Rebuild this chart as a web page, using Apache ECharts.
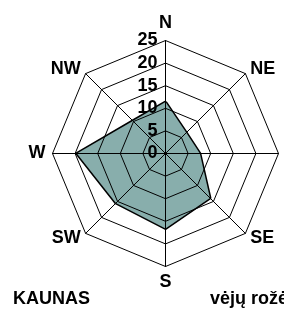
<!DOCTYPE html>
<html>
<head>
<meta charset="utf-8">
<script src="https://cdn.jsdelivr.net/npm/echarts@6/dist/echarts.min.js"></script>
<style>
  html, body { margin: 0; padding: 0; background: #fff; }
  #main { width: 284px; height: 311px; }
</style>
</head>
<body>
<div id="main"></div>
<script>
// counterclockwise from the top, like the radar lays them out
var directions = ['N', 'NW', 'W', 'SW', 'S', 'SE', 'E', 'NE'];
var frequency = [11.4, 10.2, 19.6, 15.5, 16.6, 13.9, 7.6, 6.5];
var axisMax = 25;
var city = 'KAUNAS';
var caption = 'vėjų rožė';

var font = 'Arial, Liberation Sans, sans-serif';
var chart = echarts.init(document.getElementById('main'));

var indicators = directions.map(function (d, i) {
  var item = { name: d, min: 0, max: axisMax };
  if (i === 0) {
    item.axisLabel = {
      show: true, showMinLabel: true, showMaxLabel: true, hideOverlap: false,
      color: '#000', fontFamily: font, fontWeight: 'bold',
      fontSize: 18, margin: 8
    };
  }
  return item;
});

var titleText = { fontFamily: font, fontWeight: 'bold', fontSize: 18, color: '#000' };

var option = {
  backgroundColor: '#fff',
  animation: false,
  title: [
    { text: city, left: 13, top: 290, padding: 0, textStyle: titleText },
    { text: caption, left: 210, top: 290, padding: 0, textStyle: titleText }
  ],
  radar: {
    z: 3,
    center: [165.5, 153.5],
    radius: 113,
    shape: 'polygon',
    splitNumber: 5,
    indicator: indicators,
    axisName: { color: '#000', fontFamily: font, fontWeight: 'bold', fontSize: 18 },
    nameGap: 7,
    axisLine: { lineStyle: { color: '#000', width: 1 } },
    splitLine: { lineStyle: { color: '#000', width: 1 } },
    splitArea: { show: false },
    axisTick: { show: false }
  },
  series: [{
    type: 'radar',
    z: 1,
    symbol: 'none',
    lineStyle: { color: '#000', width: 3 },
    areaStyle: { color: '#88AEAC', opacity: 1 },
    data: [{ value: frequency, name: city }]
  }]
};

chart.setOption(option);
</script>
</body>
</html>
